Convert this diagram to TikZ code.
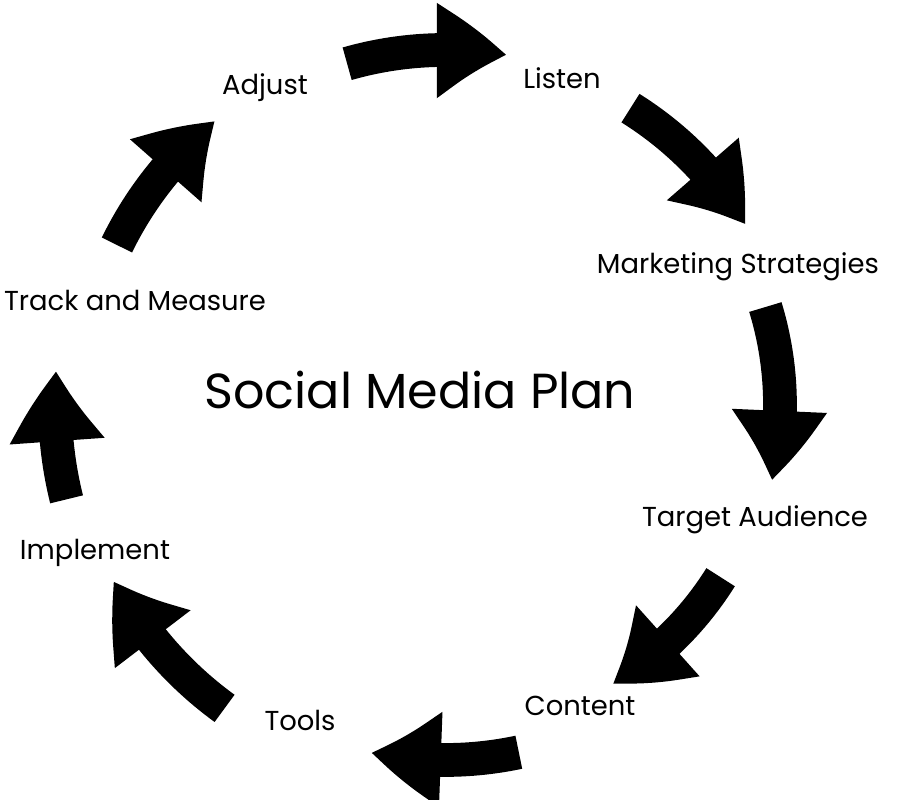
\documentclass[tikz,border=0pt]{standalone}
\usepackage{fontspec}
\setmainfont{Poppins}
\usetikzlibrary{arrows.meta,bending}
\tikzset{
    lbl/.style={font=\fontsize{19.5}{22}\selectfont},
    cyc/.style={line width=24pt, -{Triangle[width=64pt,length=50pt,bend]}}
}
\begin{document}
\begin{tikzpicture}[x=0.025cm, y=0.025cm]
    \useasboundingbox (0,0) rectangle (897,800);
    \coordinate (c) at (445,395);

    % Title
    \node[font=\fontsize{35}{40}\selectfont] (title) at (420,410) {Social Media Plan};

    % Steps
    \node[lbl] (listen) at (562,722) {Listen};
    \node[lbl] (mark) at (738,533) {Marketing Strategies};
    \node[lbl] (target) at (755,280) {Target Audience};
    \node[lbl] (content) at (580,94) {Content};
    \node[lbl] (tools) at (300,80) {Tools};
    \node[lbl] (impl) at (95,247) {Implement};
    \node[lbl] (track) at (135,500) {Track and Measure};
    \node[lbl] (adjust) at (265,712) {Adjust};

    % Cycle arrows: start angle / end angle / radius
    \foreach \a/\b/\r in {106/80/355, 58/31/350, 17/-13/335, -32/-59/325,
                          -78/-102/355, -126/-152/375, 194/175/390, 154/129/365}
        \draw[cyc] ([shift={(\a:\r*0.025cm)}]c) arc[start angle=\a, end angle=\b, radius=\r*0.025cm];
\end{tikzpicture}
\end{document}
